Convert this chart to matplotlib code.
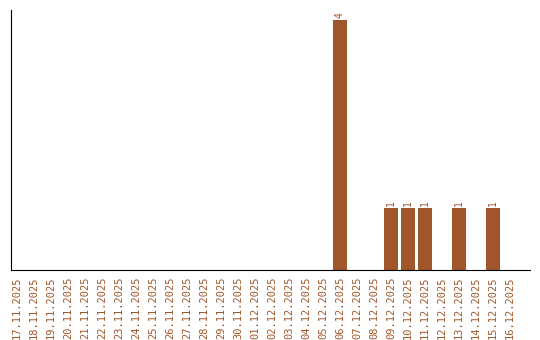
import numpy as np
import matplotlib.pyplot as plt

dates = ['17.11.2025', '18.11.2025', '19.11.2025', '20.11.2025', '21.11.2025',
         '22.11.2025', '23.11.2025', '24.11.2025', '25.11.2025', '26.11.2025',
         '27.11.2025', '28.11.2025', '29.11.2025', '30.11.2025', '01.12.2025',
         '02.12.2025', '03.12.2025', '04.12.2025', '05.12.2025', '06.12.2025',
         '07.12.2025', '08.12.2025', '09.12.2025', '10.12.2025', '11.12.2025',
         '12.12.2025', '13.12.2025', '14.12.2025', '15.12.2025', '16.12.2025']
counts = [0, 0, 0, 0, 0, 0, 0, 0, 0, 0,
          0, 0, 0, 0, 0, 0, 0, 0, 0, 4,
          0, 0, 1, 1, 1, 0, 1, 0, 1, 0]

col = '#a0562a'

fig = plt.figure(figsize=(5.4, 3.4), dpi=100)
ax = fig.add_axes([11/540, 70/340, 519/540, 260/340])

x = np.arange(len(dates))
ax.bar(x, counts, width=0.82, color=col)
for xi, c in zip(x, counts):
    if c > 0:
        ax.text(xi, c + 0.03, str(c), rotation=90, ha='center', va='bottom',
                fontsize=7, color=col, family='DejaVu Sans Mono')

ax.set_xlim(-0.35, 30.18)
ax.set_ylim(0, 4.16)
ax.set_xticks(x)
ax.set_xticklabels(dates, rotation=90, fontsize=7.5, color=col,
                   family='DejaVu Sans Mono')
ax.tick_params(axis='x', length=0, pad=5)
ax.set_yticks([])
for s in ['top', 'right']:
    ax.spines[s].set_visible(False)
for s in ['left', 'bottom']:
    ax.spines[s].set_linewidth(0.8)

fig.savefig('out.png', dpi=100)
